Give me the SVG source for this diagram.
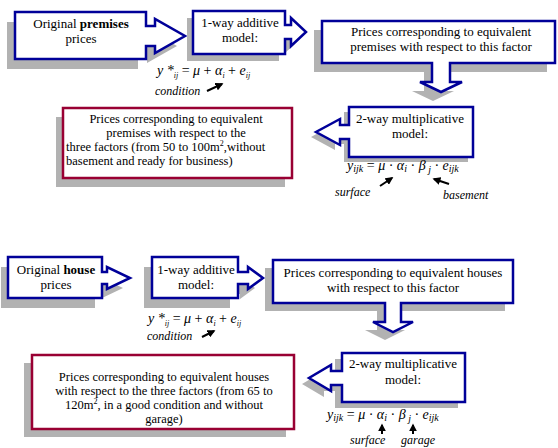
<svg xmlns="http://www.w3.org/2000/svg" width="558" height="448" viewBox="0 0 558 448">
<defs>
<style>
.sh{fill:#b2b2b2;stroke:none}
.bb{fill:#fff;stroke:#000099;stroke-width:2.5}
.rb{fill:#fff;stroke:#990033;stroke-width:2.5}
text{font-family:"Liberation Serif","Times New Roman",serif;fill:#000}
.t{font-size:13px;text-anchor:middle}
.r{font-size:12.5px;text-anchor:middle}
.rl{font-size:12.5px}
.f{font-size:14px;font-style:italic}
.fs{font-size:8px}
.lab{font-size:12px;font-style:italic}
.ar{stroke:#000;stroke-width:2;fill:none;marker-end:url(#ah)}
</style>
<marker id="ah" viewBox="0 0 10 10" refX="8" refY="5" markerWidth="4" markerHeight="4" orient="auto" markerUnits="strokeWidth">
<path d="M0,0 L10,5 L0,10 Z" fill="#000"/>
</marker>
</defs>
<rect width="558" height="448" fill="#fff"/>

<g id="n1">
<path class="sh" transform="translate(-8,10)" d="M15 12 H146 V26 H155 V19 L185 36 L155 53 V46 H146 V59 H15 Z"/>
<path class="bb" d="M15 12 H146 V26 H155 V19 L185 36 L155 53 V46 H146 V59 H15 Z"/>
<text class="t" x="81" y="28">Original <tspan font-weight="bold">premises</tspan></text>
<text class="t" x="81" y="43">prices</text>
</g>

<g id="n2">
<path class="sh" transform="translate(-6,7)" d="M193 11 H285 V25 H291 V18 L306 32 L291 46 V39 H285 V54 H193 Z"/>
<path class="bb" d="M193 11 H285 V25 H291 V18 L306 32 L291 46 V39 H285 V54 H193 Z"/>
<text class="t" x="240" y="27">1-way additive</text>
<text class="t" x="240" y="42">model:</text>
<text class="f" x="157" y="75">y *<tspan class="fs" dy="3">ij</tspan><tspan dy="-3" font-style="normal"> = </tspan>μ<tspan font-style="normal"> + </tspan>α<tspan class="fs" dy="3">i</tspan><tspan dy="-3" font-style="normal"> + </tspan>e<tspan class="fs" dy="3">ij</tspan></text>
<text class="lab" x="155" y="95">condition</text>
</g>

<g id="n3">
<path class="sh" transform="translate(-8,9)" d="M322 21 H555 V63 H450 V82 H462 L441 92 L420 82 H432 V63 H322 Z"/>
<path class="bb" d="M322 21 H555 V63 H450 V82 H462 L441 92 L420 82 H432 V63 H322 Z"/>
<text class="t" x="441" y="36">Prices corresponding to equivalent</text>
<text class="t" x="441" y="51">premises with respect to this factor</text>
</g>

<g id="n4">
<path class="sh" transform="translate(-5,5)" d="M349 107 H473 V157 H349 V139 H340 V145 L316 132 L340 119 V125 H349 Z"/>
<path class="bb" d="M349 107 H473 V157 H349 V139 H340 V145 L316 132 L340 119 V125 H349 Z"/>
<text class="t" x="410" y="123">2-way multiplicative</text>
<text class="t" x="410" y="138">model:</text>
<text class="f" x="347" y="170">y<tspan font-size="10" dy="2">ijk</tspan><tspan dy="-2" font-style="normal"> = </tspan>μ<tspan font-style="normal"> · </tspan>α<tspan font-size="10" dy="2">i</tspan><tspan dy="-2" font-style="normal"> · </tspan>β<tspan font-size="10" dy="3"> j</tspan><tspan dy="-3" font-style="normal"> · </tspan>e<tspan font-size="10" dy="2">ijk</tspan></text>
<text class="lab" x="335" y="196">surface</text>
<text class="lab" x="443" y="199">basement</text>
</g>

<g id="n5">
<rect class="sh" x="56" y="117" width="229" height="70"/>
<rect class="rb" x="63" y="108" width="229" height="70"/>
<text class="r" x="176" y="123">Prices corresponding to equivalent</text>
<text class="r" x="176" y="137">premises with respect to the</text>
<text class="rl" x="66" y="151">three factors (from 50 to 100m<tspan font-size="8" dy="-5">2</tspan><tspan dy="5">,without</tspan></text>
<text class="rl" x="66" y="165">basement and ready for business)</text>
</g>

<g id="n6">
<path class="sh" transform="translate(-7,10)" d="M8 257 H102 V272 H107 V267 L130 278 L107 289 V284 H102 V298 H8 Z"/>
<path class="bb" d="M8 257 H102 V272 H107 V267 L130 278 L107 289 V284 H102 V298 H8 Z"/>
<text class="t" x="56" y="274">Original <tspan font-weight="bold">house</tspan></text>
<text class="t" x="56" y="289">prices</text>
</g>

<g id="n7">
<path class="sh" transform="translate(-8,10)" d="M152 257 H238 V272 H248 V267 L263 278 L248 289 V284 H238 V298 H152 Z"/>
<path class="bb" d="M152 257 H238 V272 H248 V267 L263 278 L248 289 V284 H238 V298 H152 Z"/>
<text class="t" x="196" y="274">1-way additive</text>
<text class="t" x="196" y="289">model:</text>
<text class="f" x="148" y="323">y *<tspan class="fs" dy="3">ij</tspan><tspan dy="-3" font-style="normal"> = </tspan>μ<tspan font-style="normal"> + </tspan>α<tspan class="fs" dy="3">i</tspan><tspan dy="-3" font-style="normal"> + </tspan>e<tspan class="fs" dy="3">ij</tspan></text>
<text class="lab" x="147" y="340">condition</text>
</g>

<g id="n8">
<path class="sh" transform="translate(-8,8)" d="M273 260 H513 V303 H401 V322 H413 L393 332 L373 322 H385 V303 H273 Z"/>
<path class="bb" d="M273 260 H513 V303 H401 V322 H413 L393 332 L373 322 H385 V303 H273 Z"/>
<text class="t" x="393" y="277">Prices corresponding to equivalent houses</text>
<text class="t" x="393" y="292">with respect to this factor</text>
</g>

<g id="n9">
<path class="sh" transform="translate(-7,6)" d="M342 353 H465 V402 H342 V385 H331 V391 L309 378 L331 365 V371 H342 Z"/>
<path class="bb" d="M342 353 H465 V402 H342 V385 H331 V391 L309 378 L331 365 V371 H342 Z"/>
<text class="t" x="403" y="368">2-way multiplicative</text>
<text class="t" x="403" y="384">model:</text>
<text class="f" x="327" y="419">y<tspan font-size="10" dy="2">ijk</tspan><tspan dy="-2" font-style="normal"> = </tspan>μ<tspan font-style="normal"> · </tspan>α<tspan font-size="10" dy="2">i</tspan><tspan dy="-2" font-style="normal"> · </tspan>β<tspan font-size="10" dy="3"> j</tspan><tspan dy="-3" font-style="normal"> · </tspan>e<tspan font-size="10" dy="2">ijk</tspan></text>
<text class="lab" x="350" y="444">surface</text>
<text class="lab" x="401" y="444">garage</text>
</g>

<g id="n10">
<rect class="sh" x="24" y="363" width="262" height="74"/>
<rect class="rb" x="32" y="355" width="262" height="74"/>
<text class="r" x="164" y="381">Prices corresponding to equivalent houses</text>
<text class="r" x="164" y="395">with respect to the three factors (from 65 to</text>
<text class="r" x="164" y="409">120m<tspan font-size="8" dy="-5">2</tspan><tspan dy="5">, in a good condition and without</tspan></text>
<text class="r" x="164" y="423">garage)</text>
</g>

<g id="connectors">
<line class="ar" x1="207" y1="91" x2="222" y2="84"/>
<line class="ar" x1="380" y1="186" x2="392" y2="178"/>
<line class="ar" x1="449" y1="184" x2="434" y2="179"/>
<line class="ar" x1="202" y1="337" x2="214" y2="331"/>
<line class="ar" x1="382" y1="434" x2="382" y2="425"/>
<line class="ar" x1="413" y1="434" x2="413" y2="425"/>
</g>
</svg>
